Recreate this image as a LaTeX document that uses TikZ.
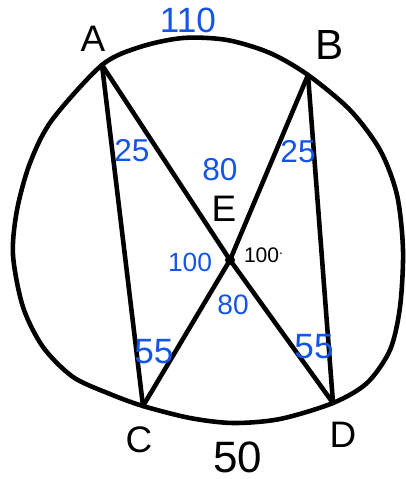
\documentclass[tikz,border=0pt]{standalone}
\usepackage{fontspec}
\setsansfont{Liberation Sans}
\usepackage{xcolor}
\definecolor{penblue}{RGB}{20,85,230}

\begin{document}
\begin{tikzpicture}[x=0.02cm, y=-0.02cm,
    pen/.style={line width=2.6pt, line cap=round, line join=round},
    lett/.style={font=\sffamily\fontsize{21}{21}\selectfont},
    meas/.style={text=penblue, font=\sffamily\fontsize{18}{18}\selectfont}]
    \useasboundingbox (0,0) rectangle (405,479);

    % points on the circle
    \coordinate (A) at (102,65);
    \coordinate (B) at (308,75);
    \coordinate (C) at (143,406);
    \coordinate (D) at (333,403);
    \coordinate (E) at (230,260);

    % circle
    \draw[pen] plot[smooth cycle] coordinates {(A) (140,47) (183,38) (227,40) (270,53) (B) (350,110) (380,150) (397,195) (403,250) (400,307) (390,350) (367,383) (D) (280,419) (233,423) (190,418) (C) (110,394) (73,377) (43,347) (23,307) (13,255) (17,210) (30,163) (52,120)};

    % chords
    \draw[pen] (A) -- (C);
    \draw[pen] (B) -- (D);
    \draw[pen] (A) -- (E) -- (D);
    \draw[pen] (B) -- (E) -- (C);
    \fill (E) circle (5);

    % letters
    \node[lett] (lA) at (93,39) {A};
    \node[lett, font=\sffamily\fontsize{24}{24}\selectfont] (lB) at (330,45) {B};
    \node[lett] (lC) at (139,440) {C};
    \node[lett] (lD) at (343,435) {D};
    \node[lett] (lE) at (224,209) {E};
    \node[lett, font=\sffamily\fontsize{25}{25}\selectfont] (l50) at (238,457) {50};

    % angles and arcs
    \node[meas, font=\sffamily\fontsize{20}{20}\selectfont] (m110) at (188,20) {110};
    \node[meas] (mA) at (132,151) {25};
    \node[meas] (mB) at (298,152) {25};
    \node[meas] (mAEB) at (220,170) {80};
    \node[meas, font=\sffamily\fontsize{15}{15}\selectfont] (mAEC) at (190,262) {100};
    \node[lett, font=\sffamily\fontsize{12}{12}\selectfont] (mBED) at (264,255) {100\textsuperscript{.}};
    \node[meas, font=\sffamily\fontsize{16}{16}\selectfont] (mCED) at (233,305) {80};
    \node[meas, font=\sffamily\fontsize{20}{20}\selectfont] (mC) at (154,352) {55};
    \node[meas, font=\sffamily\fontsize{20}{20}\selectfont] (mD) at (314,347) {55};
\end{tikzpicture}
\end{document}
